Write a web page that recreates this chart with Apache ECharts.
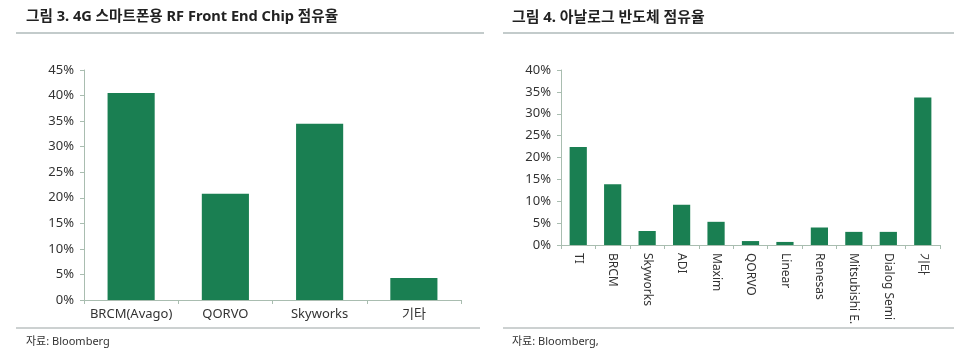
<!DOCTYPE html>
<html>
<head>
<meta charset="utf-8">
<script src="https://cdn.jsdelivr.net/npm/echarts@6/dist/echarts.min.js"></script>
<style>
html,body{margin:0;padding:0;background:#fff;}
#c{width:960px;height:357px;}
</style>
</head>
<body>
<div id="c"></div>
<script>
const leftTitle = '그림 3. 4G 스마트폰용 RF Front End Chip 점유율';
const rightTitle = '그림 4. 아날로그 반도체 점유율';
const leftSource = '자료: Bloomberg';
const rightSource = '자료: Bloomberg,';
const leftCategories = ['BRCM(Avago)', 'QORVO', 'Skyworks', '기타'];
const leftValues = [40.5, 20.8, 34.5, 4.3];
const rightCategories = ['TI', 'BRCM', 'Skyworks', 'ADI', 'Maxim', 'QORVO', 'Linear', 'Renesas', 'Mitsubishi E.', 'Dialog Semi', '기타'];
const rightValues = [22.4, 13.9, 3.2, 9.2, 5.3, 0.9, 0.7, 4.0, 3.0, 3.0, 33.7];

const FONT = '"Noto Sans", "Noto Sans CJK KR", sans-serif';
const BAR = '#1a7f52';
const AXIS = '#a9bdb0';
const TXT = '#333';
const RULE = '#c3cbcb';

const chart = echarts.init(document.getElementById('c'), null, {renderer: 'canvas'});
const pct = v => v + '%';
const option = {
  animation: false,
  textStyle: {fontFamily: FONT},
  title: [
    {text: leftTitle, left: 26, top: 10, padding: 0, textStyle: {fontFamily: FONT, fontSize: 14.6, fontWeight: 'bold', color: '#222'}},
    {text: rightTitle, left: 512, top: 10, padding: 0, textStyle: {fontFamily: FONT, fontSize: 14.9, fontWeight: 'bold', color: '#222'}},
    {text: leftSource, left: 26, top: 336, padding: 0, textStyle: {fontFamily: FONT, fontSize: 11, fontWeight: 'normal', color: TXT}},
    {text: rightSource, left: 512, top: 336, padding: 0, textStyle: {fontFamily: FONT, fontSize: 11, fontWeight: 'normal', color: TXT}}
  ],
  graphic: [
    {type: 'line', shape: {x1: 16, y1: 33, x2: 484, y2: 33}, style: {stroke: RULE, lineWidth: 2}},
    {type: 'line', shape: {x1: 503, y1: 33, x2: 954, y2: 33}, style: {stroke: RULE, lineWidth: 2}},
    {type: 'line', shape: {x1: 16, y1: 328, x2: 480, y2: 328}, style: {stroke: '#9aa3a3', lineWidth: 1}},
    {type: 'line', shape: {x1: 503, y1: 328, x2: 954, y2: 328}, style: {stroke: '#9aa3a3', lineWidth: 1}}
  ],
  grid: [
    {left: 84, top: 70, width: 377, height: 230},
    {left: 561, top: 70, width: 379, height: 175}
  ],
  xAxis: [
    {type: 'category', gridIndex: 0, data: leftCategories,
     axisLine: {lineStyle: {color: AXIS, width: 1}},
     axisTick: {show: true, length: 4, lineStyle: {color: AXIS}},
     axisLabel: {color: TXT, fontSize: 13, margin: 8, fontFamily: FONT, interval: 0}},
    {type: 'category', gridIndex: 1, data: rightCategories,
     axisLine: {lineStyle: {color: AXIS, width: 1}},
     axisTick: {show: true, length: 4, lineStyle: {color: AXIS}},
     axisLabel: {color: TXT, fontSize: 12, margin: 8, rotate: -90, fontFamily: FONT, interval: 0}}
  ],
  yAxis: [
    {type: 'value', gridIndex: 0, min: 0, max: 45, interval: 5,
     axisLine: {show: true, lineStyle: {color: AXIS}},
     axisTick: {show: true, length: 4, lineStyle: {color: AXIS}},
     splitLine: {show: false},
     axisLabel: {formatter: pct, color: TXT, fontSize: 13, margin: 10, fontFamily: FONT}},
    {type: 'value', gridIndex: 1, min: 0, max: 40, interval: 5,
     axisLine: {show: true, lineStyle: {color: AXIS}},
     axisTick: {show: true, length: 4, lineStyle: {color: AXIS}},
     splitLine: {show: false},
     axisLabel: {formatter: pct, color: TXT, fontSize: 13, margin: 10, fontFamily: FONT}}
  ],
  series: [
    {type: 'bar', xAxisIndex: 0, yAxisIndex: 0, data: leftValues, barWidth: '50%', itemStyle: {color: BAR}},
    {type: 'bar', xAxisIndex: 1, yAxisIndex: 1, data: rightValues, barWidth: '50%', itemStyle: {color: BAR}}
  ]
};
chart.setOption(option);
</script>
</body>
</html>
